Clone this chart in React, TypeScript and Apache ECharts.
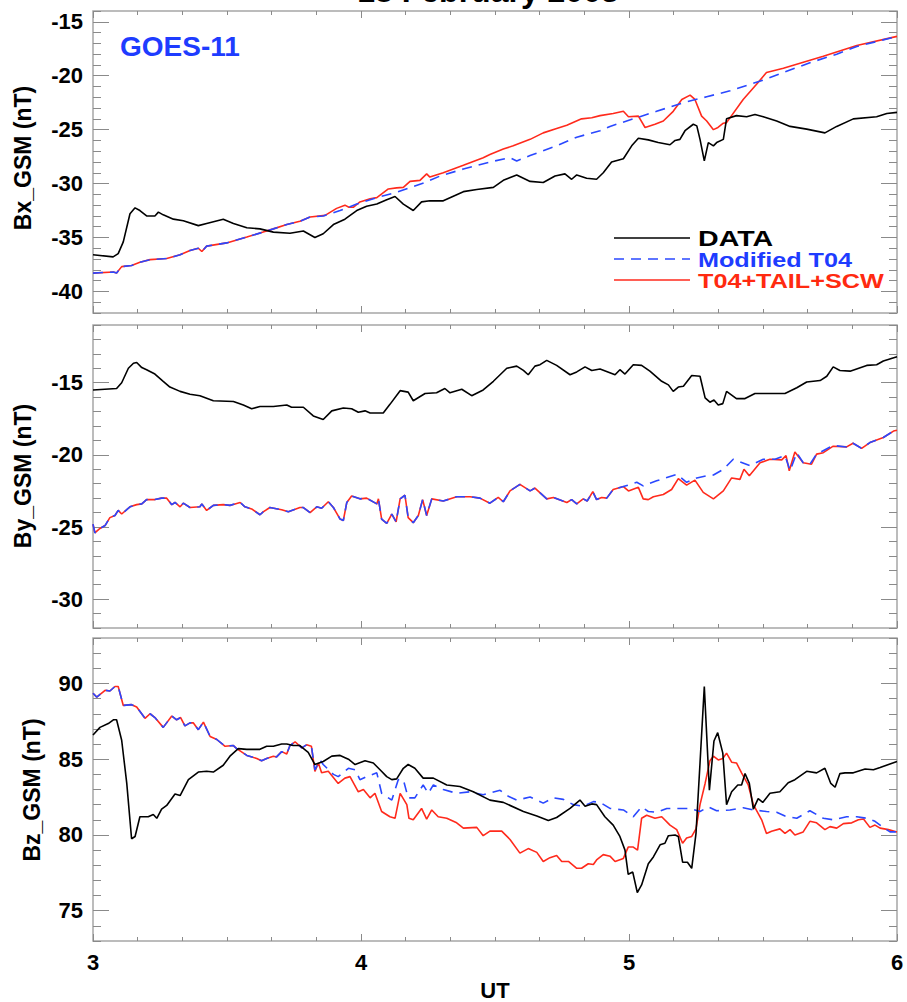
import React, { useEffect, useRef } from "react";
import * as echarts from "echarts";

const titleText = "18 February 2003";
const satelliteName = "GOES-11";
const legendNames = ["DATA", "Modified T04", "T04+TAIL+SCW"];
const xAxisName = "UT";
const yNames = ["Bx_GSM (nT)", "By_GSM (nT)", "Bz_GSM (nT)"];

const xRange = [3, 6];
const bxRange = [-42, -14];
const byRange = [-32, -11];
const bzRange = [73, 93];
const bxMajor = [-40, -35, -30, -25, -20, -15];
const byMajor = [-30, -25, -20, -15];
const bzMajor = [75, 80, 85, 90];

// ---- Bx ----
const bxObs = [[3.0,-36.6],[3.075,-36.8],[3.094,-36.5],[3.113,-35.4],[3.138,-32.8],[3.157,-32.25],[3.175,-32.5],[3.2,-33.0],[3.231,-33.0],[3.244,-32.65],[3.262,-32.9],[3.3,-33.3],[3.337,-33.45],[3.393,-33.9],[3.424,-33.7],[3.486,-33.3],[3.524,-33.7],[3.574,-34.1],[3.623,-34.2],[3.673,-34.5],[3.735,-34.6],[3.785,-34.4],[3.828,-35.0],[3.859,-34.65],[3.897,-33.8],[3.94,-33.3],[3.984,-32.5],[4.021,-32.1],[4.059,-31.9],[4.096,-31.5],[4.127,-31.2],[4.158,-31.9],[4.195,-32.5],[4.226,-31.7],[4.257,-31.6],[4.307,-31.6],[4.382,-30.75],[4.432,-30.55],[4.494,-30.35],[4.531,-29.7],[4.581,-29.2],[4.631,-29.8],[4.68,-29.9],[4.724,-29.3],[4.761,-29.1],[4.786,-29.6],[4.805,-29.2],[4.842,-29.5],[4.879,-29.6],[4.904,-29.0],[4.935,-28.0],[4.979,-27.7],[5.01,-26.5],[5.035,-25.8],[5.072,-25.95],[5.109,-26.2],[5.153,-26.4],[5.172,-26.0],[5.19,-25.9],[5.209,-25.1],[5.24,-24.5],[5.253,-24.65],[5.265,-25.9],[5.281,-27.9],[5.296,-26.2],[5.315,-26.5],[5.327,-26.2],[5.352,-25.9],[5.364,-24.0],[5.401,-23.7],[5.439,-23.8],[5.47,-23.6],[5.501,-23.8],[5.551,-24.2],[5.601,-24.7],[5.663,-24.95],[5.731,-25.3],[5.775,-24.7],[5.837,-24.0],[5.924,-23.8],[5.962,-23.5],[6.0,-23.4]];
const bxShared = [[3.0,-38.3],[3.076,-38.2],[3.088,-38.3],[3.107,-37.7],[3.144,-37.6],[3.175,-37.3],[3.213,-37.05],[3.275,-36.95],[3.325,-36.6],[3.362,-36.2],[3.393,-36.0],[3.406,-36.3],[3.424,-35.8],[3.499,-35.5],[3.574,-34.95],[3.635,-34.5],[3.673,-34.2],[3.723,-33.8],[3.772,-33.5]];
const bxModTail = [[3.81,-33.1],[3.859,-33.0],[3.922,-32.5],[3.984,-31.9],[4.059,-31.3],[4.133,-30.8],[4.239,-29.9],[4.295,-29.3],[4.382,-28.65],[4.481,-28.0],[4.556,-27.6],[4.581,-27.9],[4.631,-27.4],[4.73,-26.5],[4.805,-25.7],[4.892,-25.1],[4.929,-24.7],[5.016,-24.0],[5.103,-23.3],[5.203,-22.5],[5.29,-21.95],[5.377,-21.4],[5.451,-20.8],[5.501,-20.4],[5.576,-19.7],[5.675,-18.8],[5.775,-18.0],[5.85,-17.3],[6.0,-16.35]];
const bxScwTail = [[3.81,-33.1],[3.866,-32.95],[3.909,-32.3],[3.94,-32.0],[3.955,-32.2],[3.971,-32.2],[3.996,-31.7],[4.034,-31.4],[4.059,-31.3],[4.102,-30.5],[4.133,-30.4],[4.158,-30.35],[4.183,-29.8],[4.22,-29.7],[4.245,-29.1],[4.257,-29.4],[4.307,-29.0],[4.382,-28.3],[4.456,-27.6],[4.481,-27.3],[4.531,-26.8],[4.568,-26.5],[4.631,-25.9],[4.68,-25.3],[4.73,-24.9],[4.768,-24.6],[4.823,-24.0],[4.861,-23.9],[4.892,-23.7],[4.941,-23.5],[4.979,-23.3],[4.998,-23.8],[5.035,-23.75],[5.06,-24.8],[5.097,-24.5],[5.128,-24.2],[5.165,-23.3],[5.197,-22.2],[5.228,-21.8],[5.246,-22.2],[5.271,-23.75],[5.29,-24.2],[5.315,-25.0],[5.332,-24.8],[5.352,-24.4],[5.364,-24.35],[5.426,-22.2],[5.476,-20.8],[5.513,-19.7],[5.576,-19.3],[5.725,-18.2],[5.85,-17.2],[6.0,-16.35]];

// ---- By ----
const byObs = [[3.0,-15.5],[3.088,-15.4],[3.107,-15.0],[3.132,-14.0],[3.151,-13.65],[3.163,-13.6],[3.182,-13.95],[3.2,-14.1],[3.231,-14.4],[3.262,-14.9],[3.287,-15.3],[3.325,-15.6],[3.362,-15.8],[3.399,-15.9],[3.449,-16.25],[3.524,-16.3],[3.561,-16.55],[3.592,-16.8],[3.623,-16.65],[3.673,-16.65],[3.723,-16.55],[3.741,-16.7],[3.772,-16.7],[3.785,-16.7],[3.822,-17.3],[3.859,-17.55],[3.891,-16.95],[3.934,-16.75],[3.965,-16.8],[3.99,-17.05],[4.015,-16.95],[4.034,-17.1],[4.083,-17.1],[4.108,-16.5],[4.146,-15.55],[4.176,-15.65],[4.195,-16.25],[4.239,-15.75],[4.282,-15.7],[4.313,-15.4],[4.332,-15.7],[4.376,-15.45],[4.413,-15.9],[4.456,-15.5],[4.494,-14.9],[4.544,-14.0],[4.581,-13.85],[4.606,-14.15],[4.624,-14.45],[4.649,-13.85],[4.668,-13.75],[4.693,-13.45],[4.73,-13.8],[4.78,-14.45],[4.805,-14.25],[4.836,-13.9],[4.861,-14.15],[4.892,-14.05],[4.948,-14.45],[4.966,-14.1],[4.985,-14.4],[5.016,-13.75],[5.047,-13.8],[5.078,-14.2],[5.122,-14.9],[5.147,-15.15],[5.165,-15.6],[5.184,-15.3],[5.203,-15.25],[5.234,-14.5],[5.265,-14.55],[5.284,-16.05],[5.302,-16.35],[5.317,-16.2],[5.333,-16.55],[5.35,-16.45],[5.364,-15.6],[5.401,-16.1],[5.433,-16.1],[5.47,-15.75],[5.526,-15.75],[5.582,-15.75],[5.626,-15.35],[5.663,-14.95],[5.713,-14.85],[5.738,-14.55],[5.762,-13.9],[5.787,-14.15],[5.825,-14.2],[5.887,-13.8],[5.924,-13.75],[5.949,-13.5],[6.0,-13.2]];
const byShared = [[3.0,-24.8],[3.007,-25.4],[3.026,-25.1],[3.045,-24.9],[3.063,-24.35],[3.082,-24.2],[3.094,-23.85],[3.107,-24.1],[3.138,-23.6],[3.163,-23.45],[3.182,-23.4],[3.2,-23.1],[3.231,-23.1],[3.256,-23.0],[3.275,-23.0],[3.294,-23.45],[3.306,-23.3],[3.325,-23.6],[3.337,-23.35],[3.362,-23.65],[3.399,-23.6],[3.406,-23.4],[3.424,-23.85],[3.449,-23.5],[3.486,-23.45],[3.511,-23.5],[3.53,-23.4],[3.549,-23.3],[3.567,-23.6],[3.592,-23.75],[3.623,-24.15],[3.635,-23.95],[3.66,-23.65],[3.704,-23.8],[3.729,-23.95],[3.772,-23.65],[3.785,-23.65],[3.81,-24.0],[3.835,-23.6],[3.853,-23.7],[3.878,-23.25],[3.897,-23.65],[3.922,-24.45],[3.934,-24.55],[3.947,-23.3],[3.965,-22.85],[3.996,-23.05],[4.021,-23.0],[4.059,-23.4],[4.065,-23.05],[4.077,-24.45],[4.096,-24.75],[4.115,-24.1],[4.131,-24.65],[4.146,-23.05],[4.164,-22.8],[4.176,-24.35],[4.195,-24.7],[4.214,-24.2],[4.23,-23.1],[4.245,-24.2],[4.264,-23.05],[4.307,-23.2],[4.357,-22.9],[4.407,-22.9],[4.444,-23.0],[4.481,-23.35],[4.512,-22.95],[4.531,-23.25],[4.556,-22.5],[4.593,-22.05],[4.631,-22.5],[4.649,-22.3],[4.693,-23.05],[4.718,-22.95],[4.768,-23.3],[4.786,-23.1],[4.805,-23.4],[4.829,-23.05],[4.844,-23.2],[4.865,-22.55],[4.879,-23.1],[4.898,-22.95],[4.917,-23.0],[4.941,-22.4],[4.979,-22.2]];
const byModTail = [[5.029,-21.9],[5.053,-22.15],[5.103,-21.8],[5.178,-21.35],[5.215,-21.9],[5.253,-21.6],[5.29,-21.45],[5.315,-21.4],[5.352,-21.0],[5.389,-20.3],[5.451,-20.75],[5.501,-20.3],[5.545,-20.3],[5.582,-20.05],[5.601,-21.1],[5.626,-19.85],[5.65,-20.55],[5.675,-20.65],[5.7,-19.95],[5.762,-19.35],[5.812,-19.45],[5.836,-19.2],[5.868,-19.55],[5.899,-19.15],[5.949,-18.8],[5.987,-18.35],[6.0,-18.3]];
const byScwTail = [[4.998,-22.5],[5.035,-22.25],[5.053,-23.05],[5.072,-23.1],[5.091,-22.9],[5.128,-22.75],[5.159,-22.4],[5.184,-21.65],[5.215,-22.1],[5.246,-21.75],[5.277,-22.6],[5.315,-23.05],[5.352,-22.5],[5.383,-21.6],[5.414,-21.7],[5.429,-21.0],[5.449,-21.45],[5.489,-20.55],[5.526,-20.3],[5.57,-20.35],[5.586,-20.05],[5.598,-21.1],[5.619,-19.8],[5.65,-20.55],[5.681,-20.65],[5.7,-19.95],[5.725,-19.85],[5.762,-19.4],[5.812,-19.45],[5.836,-19.2],[5.868,-19.55],[5.899,-19.15],[5.949,-18.8],[5.987,-18.35],[6.0,-18.3]];

// ---- Bz ----
const bzObs = [[3.0,86.6],[3.026,87.1],[3.057,87.35],[3.076,87.6],[3.088,87.6],[3.107,86.25],[3.126,83.4],[3.144,79.75],[3.157,79.9],[3.175,81.2],[3.206,81.2],[3.225,81.35],[3.238,81.1],[3.256,81.7],[3.275,81.95],[3.306,82.7],[3.325,82.6],[3.356,83.65],[3.393,84.15],[3.424,84.2],[3.449,84.15],[3.486,84.6],[3.511,85.2],[3.542,85.7],[3.574,85.65],[3.623,85.65],[3.648,85.85],[3.673,85.85],[3.704,86.0],[3.723,86.0],[3.747,85.9],[3.772,85.9],[3.803,85.45],[3.828,84.65],[3.859,84.85],[3.891,85.2],[3.922,85.25],[3.953,85.0],[3.978,84.65],[4.015,84.9],[4.046,84.75],[4.071,84.3],[4.096,83.85],[4.115,83.65],[4.133,83.7],[4.158,84.4],[4.176,84.65],[4.201,84.4],[4.232,83.75],[4.27,83.75],[4.32,83.3],[4.369,83.2],[4.419,82.85],[4.481,82.3],[4.531,82.15],[4.606,81.55],[4.656,81.25],[4.699,80.95],[4.73,81.15],[4.78,81.75],[4.817,82.3],[4.836,81.9],[4.861,82.05],[4.879,82.0],[4.91,81.2],[4.941,80.65],[4.966,79.9],[4.985,79.0],[4.997,77.4],[5.014,77.55],[5.031,76.2],[5.047,76.7],[5.072,78.1],[5.091,78.55],[5.116,79.35],[5.134,79.45],[5.147,79.95],[5.172,80.0],[5.184,79.9],[5.2,78.2],[5.218,78.2],[5.234,77.8],[5.25,80.1],[5.265,84.75],[5.281,89.8],[5.3,82.95],[5.317,86.2],[5.331,86.75],[5.35,85.4],[5.364,82.0],[5.383,82.85],[5.406,83.3],[5.42,83.3],[5.433,84.05],[5.449,83.4],[5.464,81.7],[5.482,82.4],[5.499,82.15],[5.526,82.75],[5.563,82.85],[5.594,83.45],[5.619,83.65],[5.663,84.2],[5.7,84.1],[5.731,84.4],[5.753,83.4],[5.769,83.15],[5.787,84.05],[5.806,84.1],[5.837,84.1],[5.881,84.35],[5.912,84.3],[5.937,84.45],[6.0,84.85]];
const bzShared = [[3.0,89.35],[3.014,89.1],[3.045,89.55],[3.063,89.5],[3.082,89.8],[3.094,89.8],[3.113,88.55],[3.144,88.6],[3.163,88.45],[3.194,87.7],[3.213,88.0],[3.231,87.75],[3.262,87.1],[3.294,87.85],[3.312,87.6],[3.327,87.75],[3.343,87.2],[3.362,87.4],[3.374,87.4],[3.393,86.95],[3.412,87.45],[3.437,86.5],[3.462,86.3],[3.493,85.85],[3.524,85.9],[3.536,85.7],[3.574,85.25],[3.611,85.05],[3.629,84.9],[3.648,85.05],[3.673,85.2],[3.685,85.15],[3.704,85.5],[3.723,85.35],[3.735,85.9],[3.754,86.15],[3.779,85.75],[3.797,85.95],[3.815,85.85]];
const bzModTail = [[3.828,84.3],[3.847,84.95],[3.859,84.65],[3.897,84.0],[3.915,83.85],[3.953,84.4],[3.978,84.3],[3.996,83.65],[4.021,83.85],[4.059,84.1],[4.077,82.75],[4.115,82.3],[4.139,83.65],[4.158,83.65],[4.176,82.45],[4.201,82.45],[4.232,83.3],[4.251,82.75],[4.27,83.3],[4.307,83.0],[4.357,82.75],[4.407,82.85],[4.456,82.65],[4.519,82.95],[4.544,82.6],[4.581,82.3],[4.631,82.5],[4.68,82.1],[4.718,82.45],[4.755,82.35],[4.792,82.0],[4.829,81.9],[4.867,82.2],[4.892,82.15],[4.929,81.75],[4.979,81.65],[5.016,81.2],[5.047,81.85],[5.072,81.55],[5.103,81.5],[5.141,81.75],[5.184,81.75],[5.228,81.75],[5.265,81.55],[5.296,81.85],[5.327,81.6],[5.377,81.65],[5.426,81.8],[5.464,81.65],[5.513,81.55],[5.551,81.5],[5.582,81.25],[5.626,81.1],[5.675,81.6],[5.725,81.1],[5.762,81.0],[5.812,81.2],[5.85,81.2],[5.887,81.1],[5.918,80.9],[5.949,80.5],[5.974,80.2],[6.0,80.2]];
const bzScwTail = [[3.828,84.2],[3.841,84.75],[3.853,84.1],[3.878,84.2],[3.915,83.4],[3.94,83.75],[3.959,83.85],[3.99,82.85],[4.009,83.0],[4.034,82.45],[4.052,82.75],[4.077,81.55],[4.108,81.2],[4.127,81.1],[4.146,82.75],[4.171,82.0],[4.179,81.1],[4.195,81.0],[4.226,81.75],[4.245,81.05],[4.264,81.65],[4.288,81.2],[4.32,81.1],[4.357,80.8],[4.382,80.45],[4.432,80.5],[4.456,79.95],[4.481,80.25],[4.525,80.25],[4.556,79.7],[4.593,78.8],[4.624,79.1],[4.656,78.85],[4.68,78.25],[4.705,78.5],[4.73,78.65],[4.749,78.25],[4.774,78.25],[4.805,77.8],[4.823,77.8],[4.848,78.1],[4.867,78.05],[4.879,78.35],[4.904,78.7],[4.929,78.6],[4.948,78.25],[4.979,78.45],[4.997,79.2],[5.016,79.2],[5.032,79.0],[5.047,81.1],[5.066,81.3],[5.097,81.1],[5.122,81.2],[5.153,80.65],[5.178,80.35],[5.2,79.45],[5.215,79.8],[5.234,79.9],[5.25,80.4],[5.265,82.0],[5.284,83.4],[5.302,84.9],[5.315,85.2],[5.333,84.95],[5.35,85.05],[5.364,85.4],[5.383,84.8],[5.401,84.75],[5.42,84.1],[5.445,83.3],[5.464,82.0],[5.495,81.0],[5.513,80.1],[5.532,80.25],[5.563,80.4],[5.582,80.1],[5.601,80.35],[5.619,80.0],[5.65,80.2],[5.675,80.9],[5.7,80.8],[5.731,80.35],[5.75,80.55],[5.775,80.45],[5.8,80.75],[5.831,80.8],[5.856,81.0],[5.875,81.05],[5.899,80.5],[5.918,80.65],[5.937,80.45],[5.968,80.35],[6.0,80.2]];

const COLORS = { data: "#000000", mod: "#2a48ff", scw: "#ff2a1c" };
const FONT = "'Liberation Sans', Arial, Helvetica, sans-serif";

export default function App() {
  const ref = useRef<HTMLDivElement>(null);
  useEffect(() => {
    if (!ref.current) return;
    const chart = echarts.init(ref.current, null, { renderer: "svg" });
    const panels = [
      { range: bxRange, majors: bxMajor, obs: bxObs, mod: [...bxShared, ...bxModTail], scw: [...bxShared, ...bxScwTail], top: 11, height: 302 },
      { range: byRange, majors: byMajor, obs: byObs, mod: [...byShared, ...byModTail], scw: [...byShared, ...byScwTail], top: 325, height: 303 },
      { range: bzRange, majors: bzMajor, obs: bzObs, mod: [...bzShared, ...bzModTail], scw: [...bzShared, ...bzScwTail], top: 638, height: 303 },
    ];
    const tickColor = "#8a8a8a";
    const labelStyle = { color: "#000", fontSize: 22, fontWeight: "bold" as const, fontFamily: FONT };
    const grid: any[] = [];
    const xAxis: any[] = [];
    const yAxis: any[] = [];
    const series: any[] = [];
    panels.forEach((p, i) => {
      grid.push({ left: 93, width: 804, top: p.top, height: p.height, show: true, borderColor: "#a6a6a6", borderWidth: 1.5, backgroundColor: "transparent" });
      ["bottom", "top"].forEach((pos) => {
        xAxis.push({
          type: "value", gridIndex: i, position: pos, min: xRange[0], max: xRange[1], interval: 1,
          axisLine: { show: false },
          axisTick: { show: true, inside: true, length: 7, lineStyle: { color: tickColor, width: 1 } },
          minorTick: { show: true, splitNumber: 6, length: 4, lineStyle: { color: tickColor, width: 1 } },
          splitLine: { show: false }, minorSplitLine: { show: false },
          axisLabel: { show: pos === "bottom" && i === 2, margin: 10, ...labelStyle },
        });
      });
      ["left", "right"].forEach((pos) => {
        yAxis.push({
          type: "value", gridIndex: i, position: pos, min: p.range[0], max: p.range[1],
          axisLine: { show: false }, splitLine: { show: false },
          axisTick: { show: true, inside: true, length: 16, customValues: p.majors, lineStyle: { color: tickColor, width: 1 } },
          axisLabel: { show: pos === "left", customValues: p.majors, margin: 10, ...labelStyle },
        });
        yAxis.push({
          type: "value", gridIndex: i, position: pos, min: p.range[0], max: p.range[1], interval: 1,
          axisLine: { show: false }, splitLine: { show: false },
          axisTick: { show: true, inside: true, length: 8, lineStyle: { color: tickColor, width: 1 } },
          axisLabel: { show: false },
        });
      });
      const base = { type: "line", xAxisIndex: i * 2, yAxisIndex: i * 4, showSymbol: false, symbol: "none", silent: true, clip: true };
      series.push({ ...base, name: legendNames[2], data: p.scw, lineStyle: { color: COLORS.scw, width: 1.6 } });
      series.push({ ...base, name: legendNames[1], data: p.mod, lineStyle: { color: COLORS.mod, width: 1.6, type: [10, 7] } });
      series.push({ ...base, name: legendNames[0], data: p.obs, lineStyle: { color: COLORS.data, width: 1.6 } });
    });

    const graphic: any[] = [
      { type: "text", x: 488, y: 7, style: { text: titleText, font: `bold 32px ${FONT}`, fill: "#000", textAlign: "center", textVerticalAlign: "bottom" } },
      { type: "text", x: 120, y: 46, style: { text: satelliteName, font: `bold 28px ${FONT}`, fill: "#1e3cff", textAlign: "left", textVerticalAlign: "middle" } },
      { type: "line", shape: { x1: 614, y1: 238, x2: 690, y2: 238 }, style: { stroke: COLORS.data, lineWidth: 1.6 } },
      { type: "line", shape: { x1: 614, y1: 259, x2: 690, y2: 259 }, style: { stroke: COLORS.mod, lineWidth: 1.6, lineDash: [10, 7] } },
      { type: "line", shape: { x1: 614, y1: 280, x2: 690, y2: 280 }, style: { stroke: COLORS.scw, lineWidth: 1.6 } },
      { type: "text", x: 698, y: 238, scaleX: 1.3, style: { text: legendNames[0], font: `bold 22px ${FONT}`, fill: "#000", textAlign: "left", textVerticalAlign: "middle" } },
      { type: "text", x: 698, y: 260, scaleX: 1.2, style: { text: legendNames[1], font: `bold 21px ${FONT}`, fill: "#1e3cff", textAlign: "left", textVerticalAlign: "middle" } },
      { type: "text", x: 698, y: 281, scaleX: 1.2, style: { text: legendNames[2], font: `bold 21px ${FONT}`, fill: "#ff2a10", textAlign: "left", textVerticalAlign: "middle" } },
      { type: "text", x: 23, y: 158, rotation: Math.PI / 2, style: { text: yNames[0], font: `bold 23px ${FONT}`, fill: "#000", textAlign: "center", textVerticalAlign: "middle" } },
      { type: "text", x: 23, y: 476, rotation: Math.PI / 2, style: { text: yNames[1], font: `bold 23px ${FONT}`, fill: "#000", textAlign: "center", textVerticalAlign: "middle" } },
      { type: "text", x: 32, y: 790, rotation: Math.PI / 2, style: { text: yNames[2], font: `bold 23px ${FONT}`, fill: "#000", textAlign: "center", textVerticalAlign: "middle" } },
      { type: "text", x: 495, y: 990, style: { text: xAxisName, font: `bold 22px ${FONT}`, fill: "#000", textAlign: "center", textVerticalAlign: "middle" } },
    ];

    chart.setOption({ animation: false, backgroundColor: "#fff", grid, xAxis, yAxis, series, graphic });
    return () => chart.dispose();
  }, []);
  return <div ref={ref} style={{ position: "absolute", left: 0, top: 0, width: 907, height: 1002 }} />;
}
